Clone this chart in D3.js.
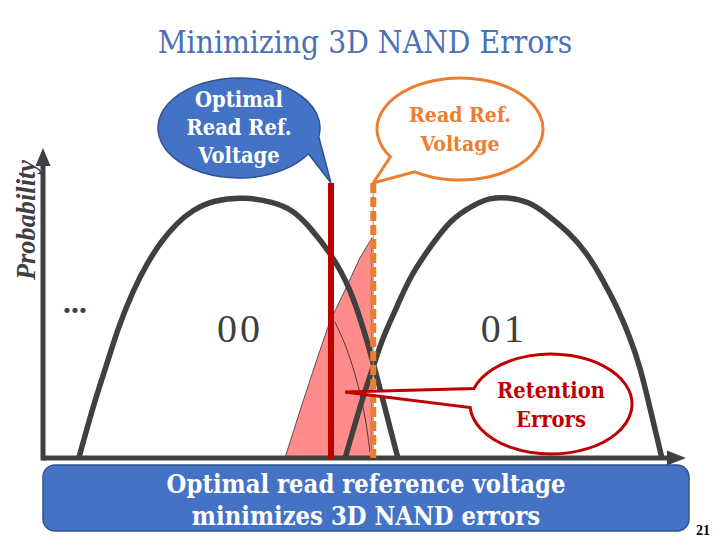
<!DOCTYPE html>
<html>
<head>
<meta charset="utf-8">
<script src="https://cdn.jsdelivr.net/npm/d3@7"></script>
<style>
  body { margin: 0; background: #fff; }
  svg { display: block; }
</style>
</head>
<body>
<div id="slide"></div>
<script>
// threshold voltage (0-100) vs probability (0-100)
const state00V = [5.6, 8.1, 10.2, 11.6, 14.1, 16.3, 18.3, 20.9, 23.4, 26.6, 31.6, 35.9, 39.1, 41.7, 44.8, 48.0, 50.8, 53.4, 55.3, 55.5];
const state00P = [0, 18.7, 31.6, 41.3, 54.2, 62.9, 69.4, 75.8, 80.0, 83.2, 84.2, 82.6, 80.0, 74.5, 66.5, 55.2, 37.1, 16.5, 1.0, 0];
const state01V = [47.2, 48.8, 50.0, 51.6, 53.1, 55.3, 57.3, 60.5, 63.6, 67.2, 69.8, 72.5, 76.1, 78.5, 82.3, 85.0, 87.5, 89.7, 91.7, 93.3, 94.8, 96.4, 96.7];
const state01P = [0, 11.3, 19.7, 29.4, 39.0, 48.7, 58.4, 68.1, 76.8, 81.6, 83.9, 84.2, 82.6, 79.0, 72.6, 66.1, 57.4, 48.7, 39.0, 29.4, 16.5, 2.6, 0];
// shifted tail (retention errors)
const errorV = [37.8, 40.2, 42.5, 44.8, 47.2, 49.5, 51.4, 51.4];
const errorP = [0, 15.5, 30.0, 43.9, 54.2, 64.5, 71.0, 0];
const overlapV = [45.6, 46.9, 48.4, 50.0, 51.1];
const overlapP = [43.9, 38.1, 29.4, 16.5, 1.9];
const optimalRefV = 45.0;
const readRefV = 51.6;
const refTopP = 88.7;
const errorPointer = [47.2, 21.3];
const stateLabels = ["...", "00", "01"];
const stateLabelV = [5.0, 30.8, 72.0];

const width = 720, height = 540;
const serif = "'DejaVu Serif Condensed', 'DejaVu Serif', serif";
const times = "'Liberation Serif', serif";
const gray = "#404040", blue = "#4472c4", blueDark = "#2f528f",
      orange = "#ed7d31", darkRed = "#c00000", pink = "#ff8585";

const svg = d3.select("#slide").append("svg")
  .attr("width", width).attr("height", height);

const x = d3.scaleLinear().domain([0, 100]).range([43, 683]);
const y = d3.scaleLinear().domain([0, 100]).range([458, 148]);

// scale a group of lines so the first one is w wide
function fit(sel, w) {
  const n = sel.nodes()[0];
  const k = w / n.getComputedTextLength();
  sel.attr("font-size", function () { return +d3.select(this).attr("font-size") * k; });
}

// title
const title = svg.append("text")
  .attr("x", 365).attr("y", 53)
  .attr("text-anchor", "middle")
  .attr("font-family", serif).attr("font-size", 28)
  .attr("fill", "#4a70b8")
  .text("Minimizing 3D NAND Errors");
fit(title, 415);

// pink error region
const zip = (vs, ps) => vs.map((v, i) => [v, ps[i]]);
svg.append("path")
  .datum(zip(errorV, errorP))
  .attr("d", d3.line().x(d => x(d[0])).y(d => y(d[1])))
  .attr("fill", pink).attr("fill-opacity", 0.95)
  .attr("stroke", "#333").attr("stroke-width", 0.8);
svg.append("path")
  .datum(zip(overlapV, overlapP))
  .attr("d", d3.line().x(d => x(d[0])).y(d => y(d[1])).curve(d3.curveMonotoneY))
  .attr("fill", "none").attr("stroke", "#222").attr("stroke-width", 0.8);

// state distributions
const curve = d3.line().x(d => x(d[0])).y(d => y(d[1])).curve(d3.curveBasis);
[zip(state00V, state00P), zip(state01V, state01P)].forEach(pts => {
  svg.append("path").datum(pts)
    .attr("d", curve)
    .attr("fill", "none").attr("stroke", gray).attr("stroke-width", 5.5);
});

// axes (no ticks), with arrow heads
svg.append("g")
  .attr("transform", `translate(0,${y(0)})`)
  .call(d3.axisBottom(x).tickValues([]).tickSizeOuter(0))
  .call(g => g.select(".domain").attr("stroke", gray).attr("stroke-width", 5)
    .attr("d", `M${x(0)},0H${x(100) - 8}`));
svg.append("g")
  .attr("transform", `translate(${x(0)},0)`)
  .call(d3.axisLeft(y).tickValues([]).tickSizeOuter(0))
  .call(g => g.select(".domain").attr("stroke", gray).attr("stroke-width", 5)
    .attr("d", `M0,${y(0) + 2.5}V${y(100) + 10}`));
svg.append("path")
  .attr("d", `M${x(100) + 3},${y(0)}L${x(100) - 16},${y(0) - 7.5}L${x(100) - 16},${y(0) + 7.5}Z`)
  .attr("fill", gray);
svg.append("path")
  .attr("d", `M${x(0)},${y(100)}L${x(0) - 7.5},${y(100) + 18}L${x(0) + 7.5},${y(100) + 18}Z`)
  .attr("fill", gray);

const yLabel = svg.append("text")
  .attr("transform", "translate(35,220) rotate(-90)")
  .attr("text-anchor", "middle")
  .attr("font-family", times).attr("font-weight", "bold").attr("font-style", "italic")
  .attr("font-size", 19).attr("fill", gray)
  .text("Probability");
fit(yLabel, 120);

// state labels
svg.selectAll("text.state")
  .data(stateLabels).join("text")
  .attr("class", "state")
  .attr("x", (d, i) => x(stateLabelV[i]))
  .attr("y", (d, i) => i === 0 ? 313 : 342)
  .attr("text-anchor", "middle")
  .attr("font-family", times)
  .attr("font-size", (d, i) => i === 0 ? 32 : 40)
  .attr("letter-spacing", (d, i) => i === 0 ? 0 : 3)
  .attr("font-weight", (d, i) => i === 0 ? "bold" : "normal")
  .attr("fill", gray)
  .text(d => d);

// read reference lines
svg.append("line")
  .attr("x1", x(readRefV)).attr("x2", x(readRefV))
  .attr("y1", y(refTopP)).attr("y2", y(0))
  .attr("stroke", "#999").attr("stroke-width", 1);
svg.append("line")
  .attr("x1", x(readRefV)).attr("x2", x(readRefV))
  .attr("y1", y(refTopP)).attr("y2", y(0))
  .attr("stroke", orange).attr("stroke-width", 6)
  .attr("stroke-dasharray", "10,4");
svg.append("line")
  .attr("x1", x(optimalRefV)).attr("x2", x(optimalRefV))
  .attr("y1", y(refTopP)).attr("y2", y(0) + 2)
  .attr("stroke", darkRed).attr("stroke-width", 6);

// callout: ellipse with a tail between angles a and b (degrees)
function callout(cx, cy, rx, ry, a, b, tip, fill, stroke, sw) {
  const p = t => [cx + rx * Math.cos(t * Math.PI / 180), cy + ry * Math.sin(t * Math.PI / 180)];
  const pa = p(a), pb = p(b);
  svg.append("path")
    .attr("d", `M${pb[0]},${pb[1]}A${rx},${ry} 0 1 1 ${pa[0]},${pa[1]}L${tip[0]},${tip[1]}Z`)
    .attr("fill", fill).attr("stroke", stroke).attr("stroke-width", sw)
    .attr("stroke-linejoin", "miter");
}
function lines(cx, ys, strs, color, w) {
  const t = svg.selectAll(null).data(strs).join("text")
    .attr("x", cx).attr("y", (d, i) => ys[i])
    .attr("text-anchor", "middle")
    .attr("font-family", serif).attr("font-weight", "bold")
    .attr("font-size", 20).attr("fill", color)
    .text(d => d);
  fit(t, w);
}

callout(239, 128, 81, 50, 10, 31, [x(optimalRefV), y(refTopP)], blue, blueDark, 1.5);
lines(239, [107, 135, 163], ["Optimal", "Read Ref.", "Voltage"], "#fff", 88);

callout(460, 129, 83, 51, 123, 147, [x(readRefV), y(refTopP)], "#fff", orange, 3);
lines(460, [122, 151], ["Read Ref.", "Voltage"], orange, 102);

callout(551, 404, 81, 50, 176, 198, [x(errorPointer[0]), y(errorPointer[1])], "#fff", darkRed, 3);
lines(551, [398, 427], ["Retention", "Errors"], darkRed, 108);

// bottom box
svg.append("rect")
  .attr("x", 43).attr("y", 465).attr("width", 646).attr("height", 66)
  .attr("rx", 12)
  .attr("fill", blue).attr("stroke", blueDark).attr("stroke-width", 1.5);
lines(366, [493, 525], ["Optimal read reference voltage", "minimizes 3D NAND errors"], "#fff", 399);

svg.append("text")
  .attr("x", 703).attr("y", 535)
  .attr("text-anchor", "middle")
  .attr("font-family", times).attr("font-weight", "bold")
  .attr("font-size", 14).attr("fill", "#000")
  .text("21");
</script>
</body>
</html>
